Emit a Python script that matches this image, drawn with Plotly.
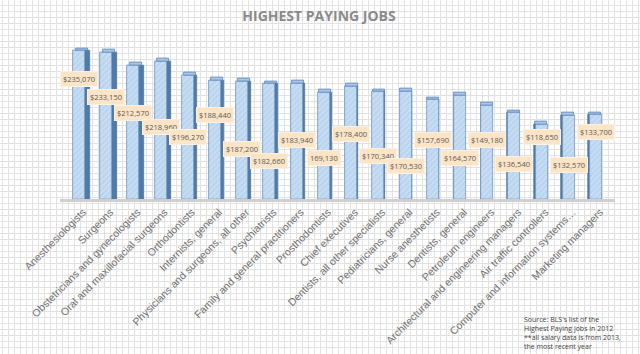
import plotly.graph_objects as go

# ---------------- data ----------------
categories = [
    "Anesthesiologists", "Surgeons", "Obstetricians and gynecologists",
    "Oral and maxillofacial surgeons", "Orthodontists", "Internists, general",
    "Physicians and surgeons, all other", "Psychiatrists",
    "Family and general practitioners", "Prosthodontists", "Chief executives",
    "Dentists, all other specialists", "Pediatricians, general",
    "Nurse anesthetists", "Dentists, general", "Petroleum engineers",
    "Architectural and engineering managers", "Air traffic controllers",
    "Computer and information systems…", "Marketing managers",
]
salaries = [235070, 233150, 212570, 218960, 196270, 188440, 187200, 182660,
            183940, 169130, 178400, 170340, 170530, 157690, 164570, 149180,
            136540, 118650, 132570, 133700]
currency_prefix = ["$"] * 9 + [""] + ["$"] * 10

# ---------------- layout helpers (positions / styles) ----------------
# vertical placement of the value labels (in salary-axis units), as in the original
label_pos = [190500, 162400, 136500, 114300, 98400, 133300, 79800, 60800,
             93700, 65100, 103200, 68700, 52400, 93700, 65100, 93700,
             55600, 98900, 54400, 106300]

W, H = 640, 354
Y_MAX = 250000
front_w = 0.44
cap_h = 4200
n = len(categories)
side = [(13.5 - i) * 0.014 for i in range(n)]

front_off = [-front_w / 2] * n
side_off = [front_w / 2 if s > 0 else -front_w / 2 + s for s in side]
side_w = [abs(s) for s in side]
cap_off = [-front_w / 2 + s * 0.5 for s in side]

fig = go.Figure()

# background "graph paper" grid subplot (drawn first)
fig.add_trace(go.Scatter(x=[0], y=[0], mode="markers", marker=dict(opacity=0),
                         hoverinfo="skip", showlegend=False, xaxis="x", yaxis="y"))

# side faces
fig.add_trace(go.Bar(
    x=categories, y=salaries, offset=side_off, width=side_w,
    marker=dict(color="#4F7BAA", line=dict(color="#42698F", width=0.6)),
    xaxis="x2", yaxis="y2", showlegend=False, hoverinfo="skip"))
# front faces
fig.add_trace(go.Bar(
    x=categories, y=salaries, offset=front_off, width=[front_w] * n,
    marker=dict(color="#B9D4EE",
                pattern=dict(shape="/", fgcolor="#E2EDF8", size=4, solidity=0.35),
                line=dict(color="#6E95C2", width=0.8)),
    xaxis="x2", yaxis="y2", showlegend=False))
# top caps
fig.add_trace(go.Bar(
    x=categories, y=[cap_h] * n, base=salaries, offset=cap_off, width=[front_w] * n,
    marker=dict(color="#A9C7E6", line=dict(color="#5E87B6", width=0.8)),
    xaxis="x2", yaxis="y2", showlegend=False, hoverinfo="skip"))

annotations = []
for c, v, p, pre in zip(categories, salaries, label_pos, currency_prefix):
    annotations.append(dict(
        x=c, y=p, xref="x2", yref="y2", text=f"{pre}{v:,}", showarrow=False,
        font=dict(family="Open Sans", size=7.5, color="#595959"),
        bgcolor="#FCE4C6", bordercolor="#FDF0E0", borderwidth=1, borderpad=2))

annotations.append(dict(
    x=522 / W, y=1 - 313 / H, xref="paper", yref="paper", xanchor="left",
    yanchor="top", align="left", showarrow=False,
    text="Source: BLS's list of the<br>Highest Paying jobs in 2012<br>"
         "**all salary data is from 2013,<br>the most recent year",
    font=dict(family="Open Sans", size=7, color="#404040")))

fig.update_layout(
    width=W, height=H, margin=dict(l=0, r=0, t=0, b=0, autoexpand=False),
    paper_bgcolor="white", plot_bgcolor="rgba(0,0,0,0)",
    barmode="overlay", bargap=0,
    title=dict(text="<b>HIGHEST PAYING JOBS</b>", x=319 / W, xanchor="center",
               y=1 - 16 / H, yanchor="middle", yref="container",
               font=dict(family="Open Sans", size=14, color="#8A8A8A")),
    xaxis=dict(domain=[0, 1], range=[0, W], showgrid=True, gridcolor="#E2E2E2",
               gridwidth=1, dtick=6, tick0=2, showticklabels=False,
               zeroline=False, showline=False, fixedrange=True, automargin=False),
    yaxis=dict(domain=[0, 1], range=[0, H], showgrid=True, gridcolor="#E2E2E2",
               gridwidth=1, dtick=6, tick0=1, showticklabels=False,
               zeroline=False, showline=False, fixedrange=True, automargin=False),
    xaxis2=dict(domain=[60 / W, 615 / W], anchor="y2", type="category",
                showgrid=False, tickangle=-45, showline=True, automargin=False,
                linecolor="#CFCFCF", linewidth=3, ticks="", ticklabelshift=4,
                tickfont=dict(family="Liberation Sans", size=10.5, color="#707070")),
    yaxis2=dict(domain=[(H - 199) / H, (H - 199 + Y_MAX * 0.00063) / H],
                anchor="x2", range=[0, Y_MAX], showgrid=False, zeroline=False,
                showticklabels=False, showline=False, automargin=False),
    annotations=annotations,
)

fig.write_html("out.html")
